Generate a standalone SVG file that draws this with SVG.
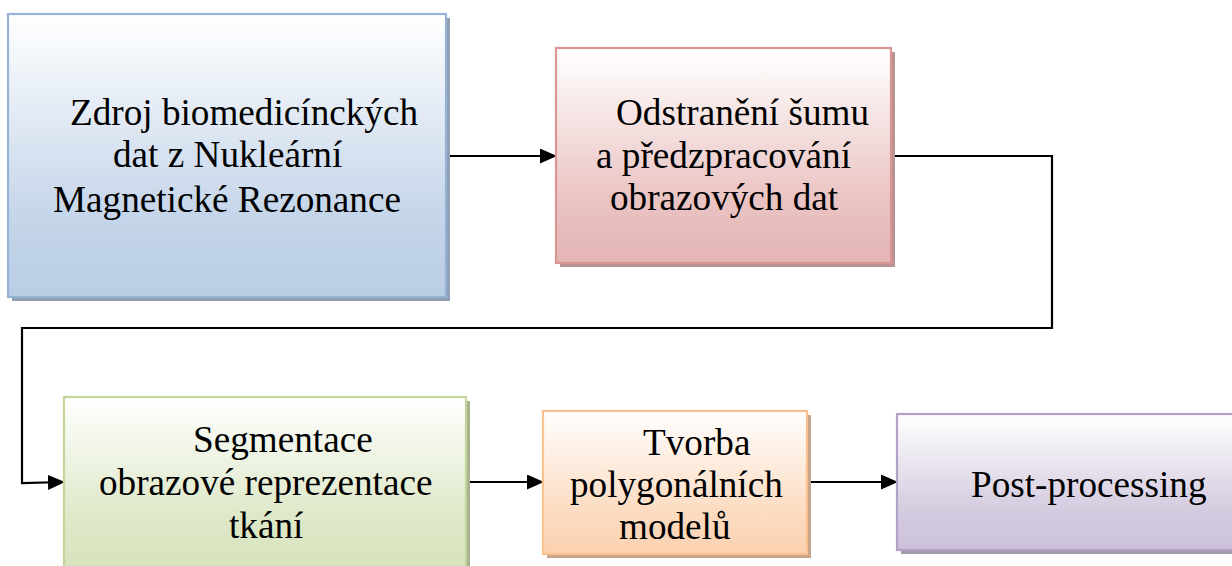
<svg xmlns="http://www.w3.org/2000/svg" width="1232" height="566" viewBox="0 0 1232 566">
<style>
text{font-size:37.2px;fill:#000}
.box{stroke-width:2.2}
.conn{fill:none;stroke:#000;stroke-width:2.2}
</style>
<defs>
<marker id="arr" markerWidth="17" markerHeight="15" refX="16" refY="7.5" orient="auto" markerUnits="userSpaceOnUse">
<path d="M0,0 L17,7.5 L0,15 Z" fill="#000"/>
</marker>
<linearGradient id="gBlue" x1="0" y1="0" x2="0" y2="1"><stop offset="0" stop-color="#ffffff"/><stop offset="0.7" stop-color="#c6d6ea"/><stop offset="1" stop-color="#b9cde5"/></linearGradient>
<linearGradient id="gPink" x1="0" y1="0" x2="0" y2="1"><stop offset="0" stop-color="#ffffff"/><stop offset="0.7" stop-color="#eac4c3"/><stop offset="1" stop-color="#e4b5b4"/></linearGradient>
<linearGradient id="gGreen" x1="0" y1="0" x2="0" y2="1"><stop offset="0" stop-color="#ffffff"/><stop offset="0.7" stop-color="#dde8c7"/><stop offset="1" stop-color="#d7e4bd"/></linearGradient>
<linearGradient id="gOrange" x1="0" y1="0" x2="0" y2="1"><stop offset="0" stop-color="#ffffff"/><stop offset="0.7" stop-color="#fcdcc2"/><stop offset="1" stop-color="#fbd1b0"/></linearGradient>
<linearGradient id="gPurple" x1="0" y1="0" x2="0" y2="1"><stop offset="0" stop-color="#ffffff"/><stop offset="0.7" stop-color="#d5cce0"/><stop offset="1" stop-color="#ccc1da"/></linearGradient>
</defs>

<g id="connectors">
<line class="conn" x1="446" y1="156" x2="556" y2="156" marker-end="url(#arr)"/>
<polyline class="conn" points="891,156 1052,156 1052,328 22,328 22,483 64,482" marker-end="url(#arr)"/>
<line class="conn" x1="466" y1="482" x2="543" y2="482" marker-end="url(#arr)"/>
<line class="conn" x1="807" y1="482" x2="897" y2="482" marker-end="url(#arr)"/>
</g>

<g font-family="'Liberation Serif', 'DejaVu Serif', serif">
<g id="node1">
<rect x="12" y="18" width="438" height="283" fill="#929fb3"/>
<rect class="box" x="8" y="14" width="438" height="283" fill="url(#gBlue)" stroke="#95b3d7"/>
<text x="70" y="125">Zdroj biomedicínckých</text>
<text x="113" y="167">dat z Nukleární</text>
<text x="53" y="212">Magnetické Rezonance</text>
</g>

<g id="node2">
<rect x="560" y="52" width="335" height="215" fill="#b99292"/>
<rect class="box" x="556" y="48" width="335" height="215" fill="url(#gPink)" stroke="#d99694"/>
<text x="616" y="125">Odstranění šumu</text>
<text x="596" y="168">a předzpracování</text>
<text x="610" y="210">obrazových dat</text>
</g>

<g id="node3">
<rect x="68" y="401" width="402" height="175" fill="#a7b38e"/>
<rect class="box" x="64" y="397" width="402" height="175" fill="url(#gGreen)" stroke="#c3d69b"/>
<text x="193" y="452">Segmentace</text>
<text x="99" y="495">obrazové reprezentace</text>
<text x="229" y="538">tkání</text>
</g>

<g id="node4">
<rect x="547" y="415" width="264" height="143" fill="#c8a488"/>
<rect class="box" x="543" y="411" width="264" height="143" fill="url(#gOrange)" stroke="#fac090"/>
<text x="643" y="455">Tvorba</text>
<text x="570" y="497">polygonálních</text>
<text x="619" y="539">modelů</text>
</g>

<g id="node5">
<rect x="901" y="418" width="340" height="136" fill="#a29caa"/>
<rect class="box" x="897" y="414" width="340" height="136" fill="url(#gPurple)" stroke="#b3a2c7"/>
<text x="971" y="497">Post-processing</text>
</g>
</g>
</svg>
